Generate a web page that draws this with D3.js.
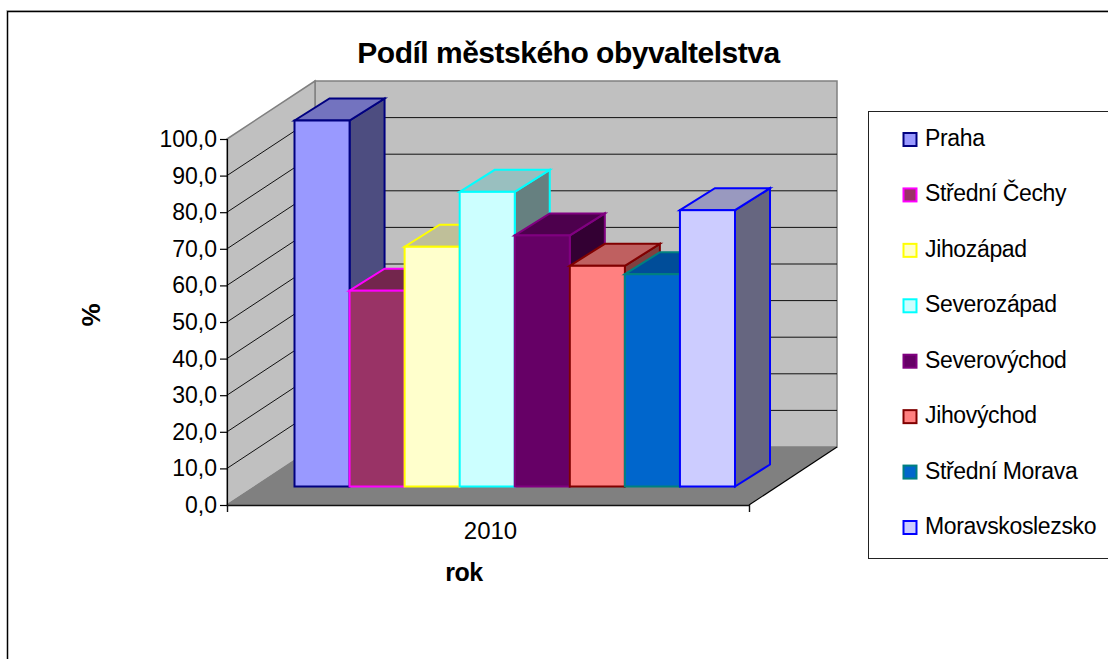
<!DOCTYPE html>
<html><head><meta charset="utf-8">
<script src="https://cdn.jsdelivr.net/npm/d3@7"></script>
<style>html,body{margin:0;padding:0;background:#fff}svg{display:block}text{font-family:"Liberation Sans",Arial,sans-serif;fill:#000}</style>
</head><body><svg id="c" width="1108" height="659"></svg>
<script>
const categories=["Praha","Střední Čechy","Jihozápad","Severozápad","Severovýchod","Jihovýchod","Střední Morava","Moravskoslezsko"];
const values=[100,53.5,65.5,80.5,68.6,60.3,58,75.5];
const fills=["#9999ff","#993366","#ffffcc","#ccffff","#660066","#ff8080","#0066cc","#ccccff"];
const strokes=["#000080","#ff00ff","#ffff00","#00ffff","#800080","#800000","#008080","#0000ff"];
const yTicks=[0,10,20,30,40,50,60,70,80,90,100];
const year="2010";

const svg=d3.select("#c");
const y=d3.scaleLinear().domain([0,100]).range([505,139]);
const x=d3.scaleBand().domain(categories).range([294.5,735]);
const L=227,R=749,DX=88,DY=-58;
const barBase=-18.5, bdx=35, bdy=-22;
const poly=p=>p.map(q=>q.join(",")).join(" ");

// frame
svg.append("path").attr("d","M1108,11.5H7.5V659").attr("fill","none").attr("stroke","#000").attr("stroke-width",1.5);
svg.append("path").attr("d","M1108,10.5H6.5").attr("fill","none").attr("stroke","#999").attr("stroke-width",1);

// walls and floor
svg.append("polygon").attr("points",poly([[L+DX,y(100)+DY],[R+DX,y(100)+DY],[R+DX,y(0)+DY],[L+DX,y(0)+DY]])).attr("fill","#c0c0c0").attr("stroke","#808080").attr("stroke-width",1.5);
svg.append("polygon").attr("points",poly([[L,y(100)],[L+DX,y(100)+DY],[L+DX,y(0)+DY],[L,y(0)]])).attr("fill","#c0c0c0").attr("stroke","#808080").attr("stroke-width",1.5);
svg.append("polygon").attr("points",poly([[L,y(0)],[R,y(0)],[R+DX,y(0)+DY],[L+DX,y(0)+DY]])).attr("fill","#808080");

// gridlines
yTicks.filter(t=>t>0&&t<100).forEach(t=>{
  svg.append("path").attr("d",`M${L},${y(t)}L${L+DX},${y(t)+DY}H${R+DX}`).attr("fill","none").attr("stroke","#111").attr("stroke-width",1);
});
svg.append("path").attr("d",`M${L},${y(0)}L${L+DX},${y(0)+DY}`).attr("stroke","#808080").attr("fill","none");
svg.append("path").attr("d",`M${R},${y(0)}L${R+DX},${y(0)+DY}`).attr("stroke","#000").attr("stroke-width",1.2).attr("fill","none");

// axes
const ax=svg.append("g").attr("transform",`translate(${L},0)`).call(d3.axisLeft(y).tickValues(yTicks).tickSize(7).tickPadding(3).tickFormat(d=>d3.format(".1f")(d).replace(".",",")));
ax.selectAll("text").attr("font-size",23).attr("dy","0.33em").style("font-family",'"Liberation Sans"');
ax.selectAll("line,path").attr("stroke","#000").attr("stroke-width",1.2);
const xa=d3.scaleBand().domain([year]).range([L,R]);
const ab=svg.append("g").attr("transform",`translate(0,${y(0)})`).call(d3.axisBottom(xa).tickSize(0).tickPadding(17).tickSizeOuter(7));
ab.selectAll("text").attr("font-size",24).attr("dy","0.71em").attr("dx",2.5).style("font-family",'"Liberation Sans"');
ab.selectAll("line,path").attr("stroke","#111").attr("stroke-width",1.4);

// bars
function shade(c,k){const r=d3.rgb(c);return d3.rgb(r.r*k,r.g*k,r.b*k).formatHex();}
categories.forEach((c,i)=>{
  const x0=x(c),x1=x0+x.bandwidth(),top=y(values[i])+barBase,base=y(0)+barBase;
  const g=svg.append("g").attr("stroke",strokes[i]).attr("stroke-width",2).attr("stroke-linejoin","miter");
  g.append("polygon").attr("points",poly([[x1,top],[x1+bdx,top+bdy],[x1+bdx,base+bdy],[x1,base]])).attr("fill",shade(fills[i],.5));
  g.append("polygon").attr("points",poly([[x0,top],[x0+bdx,top+bdy],[x1+bdx,top+bdy],[x1,top]])).attr("fill",shade(fills[i],.75));
  g.append("rect").attr("x",x0).attr("y",top).attr("width",x.bandwidth()).attr("height",base-top).attr("fill",fills[i]);
});

// titles
svg.append("text").attr("x",568.5).attr("y",63).attr("text-anchor","middle").attr("font-size",30).attr("font-weight","bold").attr("letter-spacing","-0.5px").text("Podíl městského obyvaltelstva");
svg.append("text").attr("x",464).attr("y",581).attr("text-anchor","middle").attr("font-size",25).attr("font-weight","bold").attr("letter-spacing","-0.4px").text("rok");
svg.append("text").attr("transform","translate(100,315) rotate(-90)").attr("text-anchor","middle").attr("font-size",26).attr("font-weight","bold").text("%");

// legend
svg.append("rect").attr("x",868.5).attr("y",111.5).attr("width",245).attr("height",447).attr("fill","#fff").attr("stroke","#222").attr("stroke-width",1);
const ly=d3.scalePoint().domain(categories).range([139,527]);
categories.forEach((c,i)=>{
  svg.append("rect").attr("x",903.5).attr("y",ly(c)-6).attr("width",13).attr("height",13).attr("fill",fills[i]).attr("stroke",strokes[i]).attr("stroke-width",2);
  svg.append("text").attr("x",925).attr("y",ly(c)+7).attr("font-size",23).attr("letter-spacing","-0.35px").text(c);
});
</script></body></html>
